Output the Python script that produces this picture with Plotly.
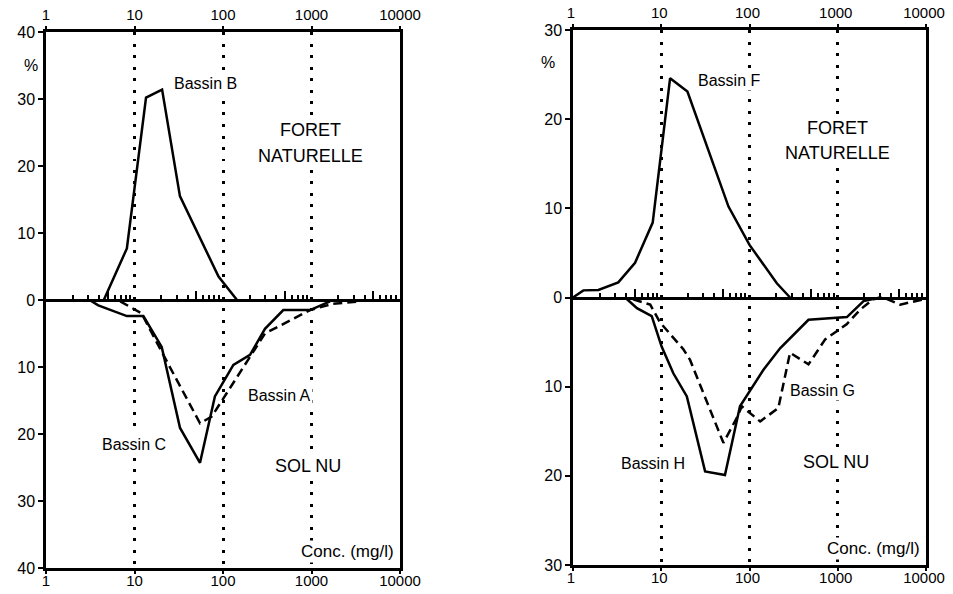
import numpy as np
import plotly.graph_objects as go

# ---------------- data ----------------
# Left panel – Forêt naturelle (top) and sol nu (bottom), % per concentration class
b_x = [4.5, 8.2, 13.5, 20.5, 32.6, 55, 89, 144]
b_y = [0, 7.7, 30.2, 31.4, 15.5, 9.2, 3.5, 0]

c_x = [3.1, 3.9, 8.2, 12.6, 20.3, 32.7, 55, 81, 131, 202, 298, 480, 962, 1620]
c_y = [0, 0.8, 2.4, 2.4, 7.0, 19.1, 24.3, 14.4, 9.7, 8.2, 4.3, 1.5, 1.5, 0.2]

a_x = [6.9, 12, 21.2, 55, 74.5, 298, 962, 1760, 3400]
a_y = [0.2, 2.0, 8.2, 18.4, 17.4, 5.0, 1.5, 0.55, 0.25]

# Right panel
f_x = [1, 1.31, 1.94, 3.26, 5.05, 8.0, 12.6, 19.8, 57.8, 100, 204, 288]
f_y = [0, 0.8, 0.85, 1.7, 3.9, 8.4, 24.6, 23.1, 10.2, 5.9, 1.6, 0]

h_x = [3.9, 5.3, 7.8, 10.1, 13.7, 19.5, 31.4, 52.7, 78, 144, 222, 466, 1270, 1960, 3020]
h_y = [0, 1.2, 2.1, 5.5, 8.5, 11.1, 19.5, 19.9, 12.2, 8.1, 5.7, 2.5, 2.2, 0.4, 0]

g_x = [4.8, 7.5, 9.7, 17.8, 21.2, 50.6, 71.8, 81.8, 132, 212, 288, 466, 720, 1260, 1800, 2520, 3300, 5100, 9400]
g_y = [0.2, 0.8, 2.8, 5.8, 7.0, 16.3, 13.5, 12.2, 13.9, 12.4, 6.2, 7.5, 4.7, 3.0, 1.35, 0.2, 0, 0.8, 0.2]

x_ticks = [1, 10, 100, 1000, 10000]
x_labels = ["1", "10", "100", "1000", "10000"]
left_yticks = [-40, -30, -20, -10, 0, 10, 20, 30, 40]
right_yticks = [-30, -20, -10, 0, 10, 20, 30]

minor5 = [5, 50, 500, 5000]
minor_other = [m * 10 ** k for k in range(4) for m in (2, 3, 4, 6, 7, 8, 9)]

FONT = "Arial"
OFF = 8                              # page body margin
W, H = 953 - 2 * OFF, 594 - 2 * OFF  # figure fits inside the page without scrolling
TICKFONT = dict(family=FONT, size=16, color="black")
XTICKFONT = dict(family=FONT, size=15, color="black")


def px_x(p):
    return (p - OFF) / W


def px_y(p):
    return 1 - (p - OFF) / H


fig = go.Figure()

panels = [
    dict(xs=["x", "x2", "x3"], y="y", xd=[px_x(46), px_x(400)], yd=[px_y(568), px_y(32)],
         yr=40, yt=left_yticks, shift=0,
         top=[(b_x, b_y, "solid", "Bassin B")],
         bot=[(c_x, c_y, "solid", "Bassin C"), (a_x, a_y, "dash", "Bassin A")]),
    dict(xs=["x4", "x5", "x6"], y="y2", xd=[px_x(573), px_x(926)], yd=[px_y(565), px_y(30)],
         yr=30, yt=right_yticks, shift=-2,
         top=[(f_x, f_y, "solid", "Bassin F")],
         bot=[(h_x, h_y, "solid", "Bassin H"), (g_x, g_y, "dash", "Bassin G")]),
]

layout = dict(width=W, height=H, margin=dict(l=0, r=0, t=0, b=0, autoexpand=False),
              paper_bgcolor="white", plot_bgcolor="white", showlegend=False,
              font=dict(family=FONT, color="black", size=14))


def axname(s):
    return "xaxis" if s == "x" else "xaxis" + s[1:]


def yname(s):
    return "yaxis" if s == "y" else "yaxis" + s[1:]


for p in panels:
    xm, xt, xz = p["xs"]
    yy = p["y"]
    for xs, ys, dash, name in p["top"]:
        fig.add_trace(go.Scatter(x=xs, y=ys, mode="lines", name=name, xaxis=xm, yaxis=yy,
                                 line=dict(color="black", width=2.5, dash=dash)))
    for xs, ys, dash, name in p["bot"]:
        fig.add_trace(go.Scatter(x=xs, y=-np.array(ys), mode="lines", name=name, xaxis=xm, yaxis=yy,
                                 line=dict(color="black", width=2.5,
                                           dash="9px,5px" if dash == "dash" else dash)))
    # helper traces so the overlay axes are drawn
    for ax in (xt, xz):
        fig.add_trace(go.Scatter(x=[x_ticks[0], x_ticks[-1]], y=[0, 0], mode="lines", xaxis=ax, yaxis=yy,
                                 line=dict(width=0, color="rgba(0,0,0,0)"), hoverinfo="skip"))

    layout[axname(xm)] = dict(type="log", range=[0, 4], domain=p["xd"], anchor=yy, automargin=False,
                              tickvals=x_ticks, ticktext=x_labels, ticks="outside", ticklen=3,
                              tickwidth=2, tickcolor="black", ticklabelshift=p["shift"],
                              ticklabelstandoff=-6,
                              showline=True, linecolor="black", linewidth=2.5, mirror=True,
                              showgrid=True, gridcolor="black", gridwidth=3, griddash="3px,8.5px",
                              zeroline=False, tickfont=XTICKFONT)
    layout[axname(xt)] = dict(type="log", range=[0, 4], overlaying=xm, anchor=yy, side="top",
                              automargin=False, ticklabelshift=p["shift"],
                              tickvals=x_ticks, ticktext=x_labels, ticks="outside", ticklen=5,
                              tickwidth=2, tickcolor="black", showline=False, showgrid=False,
                              zeroline=False, tickfont=XTICKFONT)
    zpos = (p["yd"][0] + p["yd"][1]) / 2
    layout[axname(xz)] = dict(type="log", range=[0, 4], overlaying=xm, anchor="free", position=zpos,
                              automargin=False,
                              side="bottom", tickvals=minor5, ticks="inside", ticklen=8,
                              tickwidth=1.5, tickcolor="black", showticklabels=False,
                              showline=True, linecolor="black", linewidth=2.5, showgrid=False,
                              zeroline=False,
                              minor=dict(tickvals=minor_other, ticks="inside", ticklen=4,
                                         tickwidth=1.5, tickcolor="black", showgrid=False))
    layout[yname(yy)] = dict(range=[-p["yr"], p["yr"]], domain=p["yd"], anchor=xm, automargin=False,
                             tickvals=p["yt"], ticktext=[str(abs(v)) for v in p["yt"]],
                             ticks="outside", ticklen=5, tickwidth=2, tickcolor="black",
                             showline=True, linecolor="black", linewidth=2.5, mirror=True,
                             showgrid=False, zeroline=False, tickfont=TICKFONT)

fig.update_layout(**layout)

ann = []


def text(xref, yref, x, y, t, size=16, bg=True, **kw):
    d = dict(xref=xref, yref=yref, x=x, y=y, text=t, showarrow=False,
             font=dict(family=FONT, size=size, color="black"))
    if bg:
        d["bgcolor"] = "white"
    d.update(kw)
    ann.append(d)


# left panel
text("x", "y", 1.797, 32.3, "Bassin B")
text("x", "y", 2.99, 25.3, "FORET", size=18)
text("x", "y", 2.99, 21.5, "NATURELLE", size=18)
text("x", "y", 2.644, -14.3, "Bassin A")
text("x", "y", 0.994, -21.5, "Bassin C")
text("x", "y", 2.96, -24.8, "SOL NU", size=18)
text("x", "y", 3.96, -37.6, "Conc. (mg/l)", size=17, xanchor="right")
text("paper", "paper", px_x(22), px_y(55), "%", bg=False, size=16)
# right panel
text("x4", "y2", 1.769, 24.3, "Bassin F")
text("x4", "y2", 2.993, 19.0, "FORET", size=18)
text("x4", "y2", 2.993, 16.2, "NATURELLE", size=18)
text("x4", "y2", 2.823, -10.45, "Bassin G")
text("x4", "y2", 0.907, -18.65, "Bassin H")
text("x4", "y2", 2.98, -18.5, "SOL NU", size=18)
text("x4", "y2", 3.96, -28.1, "Conc. (mg/l)", size=17, xanchor="right")
text("paper", "paper", px_x(548), px_y(52), "%", bg=False, size=16)

fig.update_layout(annotations=ann)
fig.write_html("out.html")
